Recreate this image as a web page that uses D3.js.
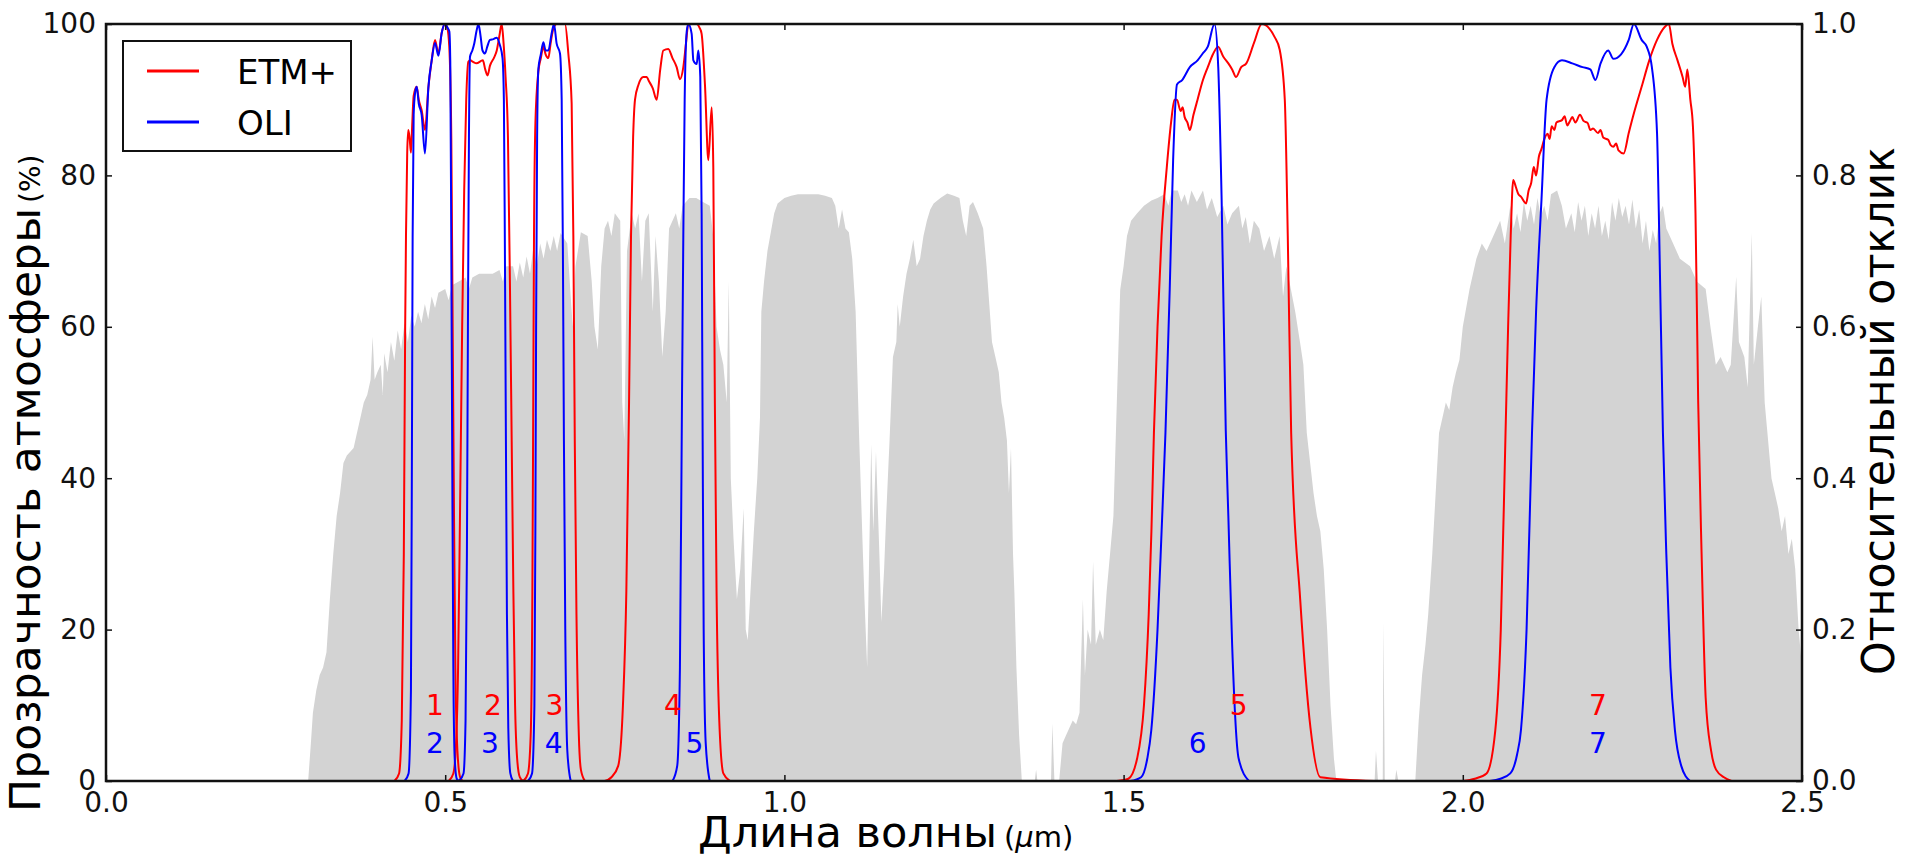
<!DOCTYPE html>
<html>
<head>
<meta charset="utf-8">
<script src="https://d3js.org/d3.v7.min.js"></script>
<style>
  body { margin: 0; background: #fff; }
  svg { display: block; }
  text { font-family: "DejaVu Sans", sans-serif; }
</style>
</head>
<body>
<svg id="chart" width="1905" height="859"></svg>
<script>
// tick values
var xTicks = [0, 0.5, 1.0, 1.5, 2.0, 2.5];
var leftTicks = [0, 20, 40, 60, 80, 100];
var rightTicks = [0, 0.2, 0.4, 0.6, 0.8, 1.0];

// atmospheric transmission, [wavelength um, percent]
var atmosphere = [[0.29,0],[0.298,0],[0.302,5],[0.305,9],[0.31,12],[0.315,14],[0.32,15],[0.325,17],[0.33,24],[0.335,30],[0.34,35],[0.345,38],[0.35,42],[0.355,43],[0.36,43.5],[0.365,44],[0.37,46],[0.375,48],[0.38,50],[0.385,51],[0.39,53],[0.393,58.7],[0.396,53],[0.40,54],[0.405,55],[0.408,51],[0.41,56.5],[0.415,54],[0.42,58],[0.425,55.5],[0.43,59.5],[0.435,57],[0.44,60.5],[0.445,58],[0.45,61.5],[0.455,60],[0.46,62],[0.465,60.5],[0.47,63],[0.475,61],[0.48,64],[0.485,62.5],[0.49,64.5],[0.50,65],[0.505,63.5],[0.51,65.5],[0.52,66],[0.53,66.5],[0.535,65],[0.54,66.5],[0.55,67],[0.56,67],[0.57,67],[0.58,67.5],[0.585,66],[0.59,68],[0.60,68],[0.605,66],[0.61,68.5],[0.615,66.5],[0.62,69.3],[0.625,67],[0.63,70.5],[0.635,68],[0.64,71],[0.645,69],[0.65,71.5],[0.655,70],[0.66,72],[0.665,70],[0.67,72.4],[0.68,71],[0.685,64],[0.688,60],[0.692,68],[0.70,72.5],[0.71,72],[0.716,66],[0.72,60],[0.725,57],[0.73,68],[0.735,73],[0.74,74],[0.745,72],[0.75,75],[0.758,74],[0.761,50],[0.764,45],[0.768,70],[0.775,75],[0.78,73],[0.785,75],[0.79,66],[0.795,74],[0.80,75],[0.806,62],[0.81,72],[0.815,66],[0.82,56],[0.825,62],[0.83,73],[0.84,75],[0.845,73],[0.85,76],[0.86,77],[0.87,77],[0.88,76.5],[0.89,76],[0.895,72],[0.90,60],[0.905,57],[0.91,55],[0.915,50],[0.918,66],[0.921,40],[0.925,32],[0.93,24],[0.935,28],[0.94,36],[0.943,20],[0.946,18.6],[0.95,25],[0.955,33],[0.96,40],[0.964,48],[0.966,62],[0.97,66],[0.975,70],[0.98,72.5],[0.985,75],[0.99,76.3],[1.00,77],[1.01,77.3],[1.02,77.5],[1.03,77.5],[1.04,77.5],[1.05,77.5],[1.06,77.3],[1.07,77],[1.075,76],[1.08,73],[1.085,75.5],[1.09,73],[1.095,72.5],[1.10,69],[1.105,62],[1.11,46],[1.115,32],[1.118,24],[1.122,15],[1.125,30],[1.128,44.5],[1.131,33],[1.135,43.5],[1.14,30],[1.143,21],[1.147,28],[1.15,35],[1.155,45],[1.16,56],[1.165,58],[1.167,63],[1.17,60],[1.175,64],[1.18,67],[1.185,69],[1.19,71.5],[1.195,68],[1.20,69],[1.205,72],[1.21,74],[1.215,75.5],[1.22,76.3],[1.23,77],[1.24,77.6],[1.25,77.3],[1.258,77],[1.263,74],[1.268,72],[1.273,76],[1.278,76.5],[1.285,75],[1.293,73],[1.298,68],[1.302,63],[1.306,58],[1.311,56],[1.316,54],[1.32,50],[1.324,48],[1.328,45],[1.331,38],[1.334,44],[1.337,30],[1.339,25],[1.342,15],[1.346,6],[1.35,0],[1.369,0],[1.371,1.5],[1.373,0],[1.393,0],[1.395,7.6],[1.398,0],[1.405,0],[1.41,5],[1.415,6],[1.42,7],[1.425,8],[1.43,7.5],[1.435,9],[1.44,24],[1.443,14],[1.447,20],[1.452,18],[1.455,29],[1.459,18],[1.465,20],[1.47,18.6],[1.475,25],[1.48,30],[1.485,35],[1.49,50],[1.495,64.9],[1.50,68],[1.505,72],[1.511,74],[1.52,75],[1.53,76],[1.541,76.7],[1.55,77],[1.56,77.5],[1.566,76],[1.571,78],[1.58,78],[1.585,76.5],[1.59,77.5],[1.595,76],[1.60,78],[1.608,76.5],[1.617,78],[1.623,75.5],[1.63,77],[1.638,74.5],[1.647,76],[1.653,73.5],[1.66,75],[1.67,76],[1.675,73],[1.68,74.5],[1.686,71],[1.692,74],[1.70,73],[1.707,70],[1.715,72],[1.722,69],[1.73,72],[1.735,64],[1.74,68],[1.753,62],[1.76,58],[1.765,55],[1.77,46],[1.775,42],[1.78,38],[1.785,35],[1.79,33],[1.795,28],[1.80,20],[1.805,10],[1.81,3],[1.813,0.5],[1.816,0],[1.87,0],[1.872,4],[1.875,0],[1.882,0],[1.883,21],[1.885,0],[1.90,0],[1.902,1.5],[1.905,0],[1.93,0],[1.935,8],[1.94,14],[1.945,18],[1.949,22],[1.955,30],[1.96,38],[1.965,46],[1.97,48],[1.975,50],[1.98,49],[1.985,52],[1.99,54],[1.995,55.6],[2.00,60],[2.01,65],[2.02,69],[2.028,71],[2.035,70],[2.047,72.4],[2.055,74],[2.062,71],[2.07,76],[2.075,73],[2.08,75],[2.085,72.5],[2.09,76.5],[2.095,74],[2.10,76],[2.105,73.5],[2.11,77],[2.115,74.5],[2.12,76],[2.125,74],[2.13,77.5],[2.139,78],[2.146,76],[2.152,73],[2.16,75],[2.165,72.5],[2.17,76.5],[2.175,74],[2.18,76],[2.185,72],[2.19,75],[2.195,73],[2.20,76],[2.205,72],[2.21,74],[2.215,71.5],[2.22,76.5],[2.225,74],[2.23,77],[2.235,74.5],[2.24,76],[2.245,73.5],[2.25,76.8],[2.255,73],[2.26,75.5],[2.265,71],[2.27,74],[2.275,70],[2.28,72.8],[2.285,71],[2.29,75],[2.295,76],[2.30,73],[2.31,71],[2.32,69],[2.335,68],[2.345,66],[2.358,65],[2.365,60],[2.373,55],[2.38,56],[2.39,54],[2.395,55],[2.403,66.6],[2.407,58],[2.415,56],[2.42,52],[2.426,72.4],[2.429,55],[2.435,60],[2.44,64],[2.445,50],[2.45,45],[2.455,40],[2.46,38],[2.465,36],[2.47,33],[2.475,35],[2.48,30],[2.485,32],[2.49,28],[2.495,20],[2.50,15]];

// ETM+ relative response, [wavelength um, response]
var etmB1 = [[0.425,0],[0.432,0.01],[0.436,0.08],[0.439,0.3],[0.441,0.6],[0.4422,0.72],[0.444,0.83],[0.4456,0.86],[0.4475,0.85],[0.4495,0.83],[0.4515,0.87],[0.4535,0.905],[0.458,0.917],[0.461,0.9],[0.4653,0.886],[0.4702,0.86],[0.4752,0.916],[0.4801,0.952],[0.485,0.979],[0.49,0.961],[0.4948,0.988],[0.4997,1.0],[0.503,0.995],[0.506,0.97],[0.509,0.85],[0.511,0.6],[0.513,0.35],[0.515,0.15],[0.518,0.04],[0.522,0.005],[0.526,0]];
var etmB2 = [[0.505,0],[0.512,0.01],[0.516,0.05],[0.519,0.15],[0.5218,0.35],[0.525,0.6],[0.528,0.78],[0.531,0.9],[0.5341,0.95],[0.537,0.952],[0.541,0.95],[0.546,0.948],[0.5555,0.952],[0.559,0.94],[0.5624,0.932],[0.566,0.945],[0.5722,0.956],[0.576,0.965],[0.58,0.985],[0.5833,1.0],[0.586,0.975],[0.589,0.93],[0.5925,0.85],[0.5955,0.65],[0.598,0.45],[0.6005,0.25],[0.603,0.1],[0.606,0.03],[0.61,0.005],[0.615,0]];
var etmB3 = [[0.615,0],[0.622,0.01],[0.626,0.06],[0.6285,0.25],[0.6298,0.5],[0.6309,0.72],[0.633,0.87],[0.6373,0.937],[0.641,0.955],[0.6447,0.97],[0.648,0.96],[0.652,0.955],[0.6555,0.975],[0.6594,0.994],[0.6643,1.0],[0.67,1.0],[0.6766,1.0],[0.6815,0.961],[0.6864,0.895],[0.6889,0.72],[0.691,0.45],[0.6935,0.22],[0.697,0.06],[0.70,0.015],[0.706,0]];
var etmB4 = [[0.735,0],[0.745,0.005],[0.755,0.02],[0.762,0.1],[0.767,0.25],[0.771,0.5],[0.7739,0.72],[0.777,0.85],[0.7798,0.9],[0.785,0.92],[0.792,0.93],[0.797,0.93],[0.80,0.925],[0.806,0.915],[0.8117,0.9],[0.817,0.94],[0.8215,0.965],[0.8289,0.967],[0.835,0.955],[0.8412,0.943],[0.8461,0.927],[0.851,0.943],[0.855,0.975],[0.8584,1.0],[0.865,1.0],[0.8707,1.0],[0.875,0.995],[0.878,0.987],[0.883,0.918],[0.8879,0.82],[0.8928,0.89],[0.8952,0.81],[0.8975,0.5],[0.90,0.25],[0.904,0.08],[0.91,0.01],[0.92,0]];
var etmB5 = [[1.49,0],[1.507,0.003],[1.52,0.03],[1.53,0.1],[1.537,0.22],[1.541,0.33],[1.5447,0.46],[1.55,0.6],[1.556,0.72],[1.5636,0.81],[1.57,0.87],[1.575,0.9],[1.5787,0.9],[1.584,0.885],[1.587,0.89],[1.59,0.877],[1.594,0.87],[1.5976,0.86],[1.603,0.88],[1.609,0.9],[1.6166,0.925],[1.6241,0.943],[1.6317,0.96],[1.6393,0.97],[1.6468,0.957],[1.6544,0.948],[1.66,0.94],[1.6657,0.93],[1.6733,0.943],[1.6809,0.948],[1.6922,0.975],[1.7036,1.0],[1.7149,0.994],[1.7225,0.983],[1.7301,0.966],[1.7376,0.9],[1.742,0.72],[1.747,0.46],[1.7603,0.24],[1.7755,0.07],[1.79,0.005],[1.87,0]];
var etmB7 = [[2.0,0],[2.0176,0.003],[2.035,0.01],[2.0479,0.067],[2.056,0.2],[2.063,0.46],[2.0668,0.6],[2.0706,0.72],[2.0743,0.794],[2.0781,0.785],[2.082,0.775],[2.0857,0.772],[2.0933,0.763],[2.097,0.78],[2.1008,0.79],[2.1046,0.811],[2.108,0.8],[2.1122,0.825],[2.116,0.835],[2.1198,0.847],[2.125,0.855],[2.128,0.848],[2.131,0.865],[2.135,0.86],[2.138,0.87],[2.1462,0.873],[2.15,0.878],[2.154,0.866],[2.158,0.872],[2.1614,0.877],[2.166,0.87],[2.1727,0.88],[2.178,0.872],[2.1841,0.869],[2.188,0.86],[2.192,0.862],[2.1993,0.856],[2.203,0.86],[2.207,0.85],[2.2143,0.847],[2.218,0.84],[2.222,0.838],[2.226,0.842],[2.2295,0.833],[2.2371,0.829],[2.2446,0.856],[2.2522,0.882],[2.2636,0.917],[2.2749,0.952],[2.2863,0.979],[2.2976,0.996],[2.3037,1.0],[2.3089,0.974],[2.3165,0.952],[2.324,0.93],[2.3278,0.917],[2.331,0.94],[2.3354,0.9],[2.3392,0.865],[2.343,0.75],[2.347,0.5],[2.352,0.3],[2.358,0.11],[2.366,0.04],[2.3733,0.015],[2.385,0.005],[2.396,0]];

// OLI relative response
var oliB2 = [[0.44,0],[0.446,0.01],[0.4495,0.12],[0.451,0.45],[0.452,0.72],[0.4535,0.88],[0.4555,0.908],[0.458,0.917],[0.461,0.895],[0.4653,0.88],[0.4702,0.829],[0.4752,0.916],[0.4801,0.952],[0.485,0.975],[0.49,0.958],[0.4948,0.988],[0.4997,1.0],[0.5035,0.995],[0.5061,0.99],[0.5075,0.95],[0.509,0.7],[0.5105,0.4],[0.512,0.15],[0.514,0.03],[0.517,0.003],[0.52,0]];
var oliB3 = [[0.52,0],[0.527,0.01],[0.53,0.08],[0.532,0.3],[0.5335,0.6],[0.535,0.85],[0.5366,0.957],[0.54,0.965],[0.543,0.975],[0.546,0.99],[0.549,1.0],[0.552,0.985],[0.555,0.965],[0.5587,0.961],[0.562,0.97],[0.566,0.979],[0.571,0.98],[0.5758,0.982],[0.5807,0.972],[0.5845,0.955],[0.5865,0.9],[0.588,0.7],[0.5895,0.45],[0.591,0.22],[0.593,0.07],[0.596,0.01],[0.6,0]];
var oliB4 = [[0.622,0],[0.628,0.01],[0.6315,0.1],[0.633,0.35],[0.634,0.6],[0.6355,0.85],[0.6373,0.94],[0.641,0.96],[0.6447,0.976],[0.648,0.965],[0.652,0.965],[0.657,0.988],[0.6603,1.0],[0.6643,0.974],[0.6692,0.961],[0.6717,0.9],[0.6735,0.7],[0.675,0.45],[0.677,0.2],[0.68,0.04],[0.685,0]];
var oliB5 = [[0.835,0],[0.842,0.02],[0.846,0.15],[0.849,0.5],[0.851,0.72],[0.853,0.9],[0.856,0.99],[0.8584,1.0],[0.8633,0.987],[0.8658,0.952],[0.8707,0.947],[0.8731,0.965],[0.876,0.93],[0.878,0.75],[0.8795,0.45],[0.881,0.2],[0.884,0.05],[0.89,0]];
var oliB6 = [[1.51,0],[1.5258,0.005],[1.535,0.03],[1.5408,0.067],[1.55,0.2],[1.556,0.33],[1.5617,0.46],[1.568,0.65],[1.573,0.82],[1.5787,0.92],[1.5863,0.926],[1.5976,0.943],[1.609,0.952],[1.6166,0.961],[1.6241,0.97],[1.634,1.0],[1.6395,0.943],[1.6445,0.768],[1.6506,0.463],[1.6544,0.35],[1.66,0.18],[1.6695,0.03],[1.6847,0]];
var oliB7 = [[2.04,0],[2.0554,0.003],[2.07,0.01],[2.08,0.035],[2.0857,0.067],[2.094,0.2],[2.102,0.46],[2.108,0.62],[2.116,0.768],[2.1235,0.9],[2.1349,0.943],[2.1462,0.952],[2.1614,0.948],[2.1765,0.943],[2.1879,0.94],[2.1955,0.926],[2.2031,0.948],[2.2143,0.965],[2.2219,0.954],[2.2333,0.96],[2.2446,0.979],[2.2522,1.0],[2.2636,0.979],[2.2711,0.97],[2.2787,0.943],[2.2863,0.856],[2.29,0.7],[2.295,0.46],[2.30,0.3],[2.306,0.15],[2.3127,0.067],[2.322,0.02],[2.335,0]];

// band numbers and where they sit (um)
var etmLabels = ["1", "2", "3", "4", "5", "7"];
var etmLabelPos = [0.485, 0.5705, 0.661, 0.8355, 1.6695, 2.1993];
var oliLabels = ["2", "3", "4", "5", "6", "7"];
var oliLabelPos = [0.485, 0.566, 0.66, 0.8675, 1.609, 2.1993];

var seriesNames = ["ETM+", "OLI"];
var seriesColors = ["#ff0000", "#0000ff"];

var W = 1905, H = 859;
var margin = {top: 24, right: 103, bottom: 78, left: 106};

var svg = d3.select("#chart");

var x = d3.scaleLinear().domain([0, 2.5]).range([margin.left, W - margin.right]);
var yPct = d3.scaleLinear().domain([0, 100]).range([H - margin.bottom, margin.top]);
var yRel = d3.scaleLinear().domain([0, 1]).range([H - margin.bottom, margin.top]);

svg.append("defs").append("clipPath").attr("id", "plot")
  .append("rect")
    .attr("x", x(0)).attr("y", yRel(1))
    .attr("width", x(2.5) - x(0)).attr("height", yRel(0) - yRel(1));

var plot = svg.append("g").attr("clip-path", "url(#plot)");

// gray transmission
plot.append("path")
    .datum(atmosphere)
    .attr("fill", "#d3d3d3")
    .attr("d", d3.area()
        .x(function(d) { return x(d[0]); })
        .y0(yPct(0))
        .y1(function(d) { return yPct(d[1]); }));

var line = d3.line()
    .x(function(d) { return x(d[0]); })
    .y(function(d) { return yRel(d[1]); })
    .curve(d3.curveMonotoneX);

[etmB1, etmB2, etmB3, etmB4, etmB5, etmB7].forEach(function(b) {
  plot.append("path").datum(b)
      .attr("fill", "none").attr("stroke", seriesColors[0]).attr("stroke-width", 2)
      .attr("d", line);
});
[oliB2, oliB3, oliB4, oliB5, oliB6, oliB7].forEach(function(b) {
  plot.append("path").datum(b)
      .attr("fill", "none").attr("stroke", seriesColors[1]).attr("stroke-width", 2)
      .attr("d", line);
});

// band numbers
svg.append("g").selectAll("text").data(etmLabels).join("text")
    .attr("x", function(d, i) { return x(etmLabelPos[i]); })
    .attr("y", yPct(10))
    .attr("dy", "0.36em")
    .attr("text-anchor", "middle")
    .attr("font-size", 28)
    .attr("fill", seriesColors[0])
    .text(function(d) { return d; });
svg.append("g").selectAll("text").data(oliLabels).join("text")
    .attr("x", function(d, i) { return x(oliLabelPos[i]); })
    .attr("y", yPct(5))
    .attr("dy", "0.36em")
    .attr("text-anchor", "middle")
    .attr("font-size", 28)
    .attr("fill", seriesColors[1])
    .text(function(d) { return d; });

// axes, ticks pointing inwards
function styleAxis(g) {
  g.select(".domain").remove();
  g.attr("font-family", "DejaVu Sans").attr("font-size", 28);
  g.selectAll(".tick line").attr("stroke", "#111").attr("stroke-width", 1.5);
  g.selectAll(".tick text").attr("fill", "#111");
}

svg.append("g")
    .attr("transform", "translate(0," + yRel(0) + ")")
    .call(d3.axisBottom(x).tickValues(xTicks).tickFormat(d3.format(".1f"))
        .tickSizeInner(-6).tickSizeOuter(0).tickPadding(11))
    .call(styleAxis);

svg.append("g")
    .attr("transform", "translate(0," + yRel(1) + ")")
    .call(d3.axisTop(x).tickValues(xTicks).tickFormat("")
        .tickSizeInner(-6).tickSizeOuter(0))
    .call(styleAxis);

svg.append("g")
    .attr("transform", "translate(" + x(0) + ",0)")
    .call(d3.axisLeft(yPct).tickValues(leftTicks)
        .tickSizeInner(-6).tickSizeOuter(0).tickPadding(10))
    .call(styleAxis);

svg.append("g")
    .attr("transform", "translate(" + x(2.5) + ",0)")
    .call(d3.axisRight(yRel).tickValues(rightTicks).tickFormat(d3.format(".1f"))
        .tickSizeInner(-6).tickSizeOuter(0).tickPadding(10))
    .call(styleAxis);

// frame
svg.append("rect")
    .attr("x", x(0)).attr("y", yRel(1))
    .attr("width", x(2.5) - x(0)).attr("height", yRel(0) - yRel(1))
    .attr("fill", "none").attr("stroke", "#111").attr("stroke-width", 2.5);

// axis titles
svg.append("text")
    .attr("x", 698).attr("y", 847)
    .attr("font-size", 43)
    .attr("textLength", 299).attr("lengthAdjust", "spacingAndGlyphs")
    .attr("fill", "#000")
    .text("Длина волны");
var unit = svg.append("text")
    .attr("x", 1004).attr("y", 847)
    .attr("font-size", 29)
    .attr("fill", "#000");
unit.append("tspan").text("(");
unit.append("tspan").attr("font-style", "italic").text("μ");
unit.append("tspan").text("m)");

svg.append("text")
    .attr("transform", "translate(40,812) rotate(-90)")
    .attr("font-size", 43)
    .attr("textLength", 604).attr("lengthAdjust", "spacingAndGlyphs")
    .attr("fill", "#000")
    .text("Прозрачность атмосферы");
svg.append("text")
    .attr("transform", "translate(40,203) rotate(-90)")
    .attr("font-size", 28)
    .attr("fill", "#000")
    .text("(%)");

svg.append("text")
    .attr("transform", "translate(1894,675) rotate(-90)")
    .attr("font-size", 44)
    .attr("textLength", 528).attr("lengthAdjust", "spacingAndGlyphs")
    .attr("fill", "#000")
    .text("Относительный отклик");

// legend
var legend = svg.append("g");
legend.append("rect")
    .attr("x", 123).attr("y", 41).attr("width", 228).attr("height", 110)
    .attr("fill", "#fff").attr("stroke", "#111").attr("stroke-width", 2);
var legendY = [71, 122];
seriesNames.forEach(function(name, i) {
  legend.append("line")
      .attr("x1", 147).attr("x2", 199)
      .attr("y1", legendY[i]).attr("y2", legendY[i])
      .attr("stroke", seriesColors[i]).attr("stroke-width", 3);
  legend.append("text")
      .attr("x", 237).attr("y", legendY[i] + 13)
      .attr("font-size", 34)
      .attr("fill", "#000")
      .text(name);
});
</script>
</body>
</html>
